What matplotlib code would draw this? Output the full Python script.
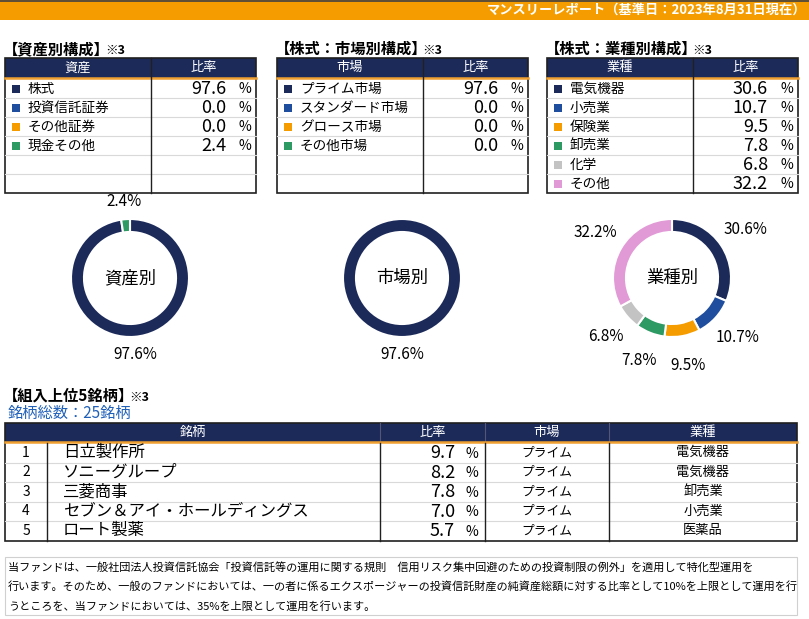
import matplotlib
matplotlib.use("Agg")
import matplotlib.pyplot as plt
from matplotlib.patches import Rectangle

plt.rcParams["font.family"] = ["Noto Sans CJK JP", "DejaVu Sans"]

# ---- data ----
REPORT_TITLE = "マンスリーレポート（基準日：2023年8月31日現在）"

asset_labels = ["株式", "投資信託証券", "その他証券", "現金その他"]
asset_values = [97.6, 0.0, 0.0, 2.4]

market_labels = ["プライム市場", "スタンダード市場", "グロース市場", "その他市場"]
market_values = [97.6, 0.0, 0.0, 0.0]

sector_labels = ["電気機器", "小売業", "保険業", "卸売業", "化学", "その他"]
sector_values = [30.6, 10.7, 9.5, 7.8, 6.8, 32.2]

top_names = ["日立製作所", "ソニーグループ", "三菱商事", "セブン＆アイ・ホールディングス", "ロート製薬"]
top_weights = [9.7, 8.2, 7.8, 7.0, 5.7]
top_markets = ["プライム", "プライム", "プライム", "プライム", "プライム"]
top_sectors = ["電気機器", "電気機器", "卸売業", "小売業", "医薬品"]
n_holdings = 25

NOTE = ["当ファンドは、一般社団法人投資信託協会「投資信託等の運用に関する規則　信用リスク集中回避のための投資制限の例外」を適用して特化型運用を",
        "行います。そのため、一般のファンドにおいては、一の者に係るエクスポージャーの投資信託財産の純資産総額に対する比率として10%を上限として運用を行",
        "うところを、当ファンドにおいては、35%を上限として運用を行います。"]

NAVY, BLUE, ORANGE, GREEN, GRAY, PINK = "#1c2a5a", "#1f4e9e", "#f59c00", "#2e9a63", "#c3c3c3", "#e19ad5"
PALETTE = [NAVY, BLUE, ORANGE, GREEN, GRAY, PINK]
LINE = "#d9d9d9"

W, H = 809, 619
fig = plt.figure(figsize=(W / 100, H / 100), dpi=100)
base = fig.add_axes([0, 0, 1, 1])
base.set_xlim(0, W); base.set_ylim(H, 0); base.axis("off")


def rect(x0, y0, x1, y1, **kw):
    base.add_patch(Rectangle((x0, y0), x1 - x0, y1 - y0, **kw))


def hline(x0, x1, y, **kw):
    base.plot([x0, x1], [y, y], **kw)


def vline(x, y0, y1, **kw):
    base.plot([x, x], [y0, y1], **kw)


def section_title(x, y, text, size=11):
    t = base.text(x, y, text, fontsize=size, fontweight="bold", va="center")
    fig.canvas.draw()
    bb = t.get_window_extent()
    xe = bb.x1 * W / fig.bbox.width - size * 0.45
    base.text(xe, y + 1, "※3", fontsize=size - 2, fontweight="bold", va="center")


# top banner
rect(0, 0, W, 19.5, color=ORANGE, lw=0)
hline(0, W, 0.5, color="#404040", lw=1.2)
base.text(806, 10, REPORT_TITLE, color="white", fontsize=9.5, fontweight="bold",
          ha="right", va="center")


def comp_table(x0, head, labels, values, nrows=6):
    x1, xd = x0 + 251, x0 + 146
    y0, yh, rh = 58, 77.5, 19
    rect(x0, y0, x1, yh, color=NAVY, lw=0)
    base.text((x0 + xd) / 2, (y0 + yh) / 2, head, color="white", fontsize=9.5,
              ha="center", va="center")
    base.text((xd + x1) / 2, (y0 + yh) / 2, "比率", color="white", fontsize=9.5,
              ha="center", va="center")
    hline(x0, x1, yh + 0.8, color="#f0a030", lw=1.8)
    ybot = yh + 1.5 + rh * nrows
    for i in range(1, nrows):
        hline(x0, x1, yh + 1.5 + rh * i, color=LINE, lw=0.8)
    for i, (lab, v) in enumerate(zip(labels, values)):
        yc = yh + 1.5 + rh * i + rh / 2
        rect(x0 + 7, yc - 3.8, x0 + 15, yc + 4.2, color=PALETTE[i], lw=0)
        base.text(x0 + 23, yc, lab, fontsize=9.8, va="center")
        base.text(x0 + 221, yc + 0.5, f"{v:.1f}", fontsize=13, ha="right", va="center")
        base.text(x0 + 240, yc + 0.5, "%", fontsize=10, ha="center", va="center")
    vline(xd, y0, ybot, color="#202020", lw=1)
    rect(x0, y0, x1, ybot, fill=False, ec="#202020", lw=1.2)


for x0, title, head, labels, values in [
        (5, "【資産別構成】", "資産", asset_labels, asset_values),
        (277, "【株式：市場別構成】", "市場", market_labels, market_values),
        (547, "【株式：業種別構成】", "業種", sector_labels, sector_values)]:
    comp_table(x0, head, labels, values)
    section_title(x0 - 2, 49, title)


def donut(cx, center_text, values, colors, ldist):
    size = 230
    ax = fig.add_axes([(cx - size / 2) / W, 1 - (278 + size / 2) / H, size / W, size / H])
    vals = [v for v in values if v > 0]
    cols = [c for v, c in zip(values, colors) if v > 0]
    wedges, texts = ax.pie(vals, colors=cols, startangle=90, counterclock=False,
                           radius=1, labels=[f"{v:.1f}%" for v in vals],
                           labeldistance=ldist,
                           wedgeprops=dict(width=0.22, edgecolor="white", linewidth=1.5),
                           textprops=dict(fontsize=11))
    for t in texts:
        t.set_ha("center"); t.set_va("center")
    lim = (size / 2) / 59
    ax.set_xlim(-lim, lim); ax.set_ylim(-lim, lim)
    ax.set_aspect("equal")
    ax.text(0, 0, center_text, fontsize=12.5, ha="center", va="center")
    return ax


donut(130, "資産別", asset_values, PALETTE, 1.3)
donut(402, "市場別", market_values, PALETTE, 1.3)
donut(672, "業種別", sector_values, PALETTE, 1.5)

# top holdings
section_title(3, 396, "【組入上位5銘柄】")
base.text(8, 413, f"銘柄総数：{n_holdings}銘柄", fontsize=11, color="#2060b8", va="center")

tx0, tx1 = 5, 797
cols = [5, 47, 380, 485, 609, 797]
hy0, hy1, rh = 423, 441.5, 19.5
rect(tx0, hy0, tx1, hy1, color=NAVY, lw=0)
for txt, xc in [("銘柄", (cols[0] + cols[2]) / 2), ("比率", (cols[2] + cols[3]) / 2),
                ("市場", (cols[3] + cols[4]) / 2), ("業種", (cols[4] + cols[5]) / 2)]:
    base.text(xc, (hy0 + hy1) / 2, txt, color="white", fontsize=9.5, ha="center", va="center")
for xv in cols[2:5]:
    vline(xv, hy0, hy1, color="#555577", lw=0.8)
hline(tx0, tx1, hy1 + 0.8, color="#f0a030", lw=1.8)
ybot = hy1 + 1.5 + rh * len(top_names)
for i in range(1, len(top_names)):
    hline(tx0, tx1, hy1 + 1.5 + rh * i, color=LINE, lw=0.8)
for i, (nm, wt, mk, sc) in enumerate(zip(top_names, top_weights, top_markets, top_sectors)):
    yc = hy1 + 1.5 + rh * i + rh / 2
    base.text(26, yc, str(i + 1), fontsize=10, ha="center", va="center")
    base.text(63, yc, nm, fontsize=11.8, va="center")
    base.text(455, yc + 0.5, f"{wt:.1f}", fontsize=13, ha="right", va="center")
    base.text(472, yc + 1, "%", fontsize=10, ha="center", va="center")
    base.text((cols[3] + cols[4]) / 2, yc, mk, fontsize=9.2, ha="center", va="center")
    base.text((cols[4] + cols[5]) / 2, yc, sc, fontsize=9.5, ha="center", va="center")
for xv in cols[1:5]:
    vline(xv, hy1 + 1.5, ybot, color="#202020", lw=1)
rect(tx0, hy0, tx1, ybot, fill=False, ec="#202020", lw=1.2)

# note box
rect(5, 557, 797, 615, fill=False, ec="#d0d0d0", lw=0.8)
for j, line in enumerate(NOTE):
    base.text(8, 567 + 19.5 * j, line, fontsize=8.0, va="center")

fig.savefig("out.png", dpi=100)
